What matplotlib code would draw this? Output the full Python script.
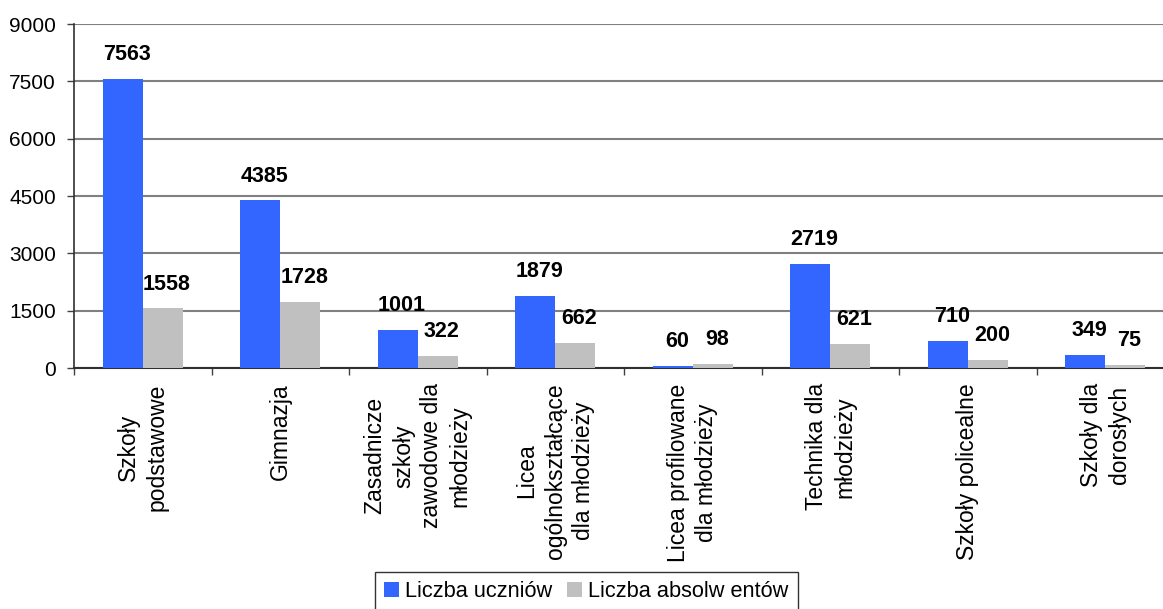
import matplotlib
matplotlib.use("Agg")
import matplotlib.pyplot as plt
import numpy as np
from matplotlib.patches import Patch

categories = ["Szkoły\npodstawowe", "Gimnazja", "Zasadnicze\nszkoły\nzawodowe dla\nmłodzieży",
              "Licea\nogólnokształcące\ndla młodzieży", "Licea profilowane\ndla młodzieży",
              "Technika dla\nmłodzieży", "Szkoły policealne", "Szkoły dla\ndorosłych"]
uczniowie = [7563, 4385, 1001, 1879, 60, 2719, 710, 349]
absolwenci = [1558, 1728, 322, 662, 98, 621, 200, 75]
series_names = ["Liczba uczniów", "Liczba absolw entów"]
yticks = [0, 1500, 3000, 4500, 6000, 7500, 9000]

plt.rcParams['font.family'] = ['Liberation Sans', 'DejaVu Sans']

W, H = 1163, 609
fig = plt.figure(figsize=(W / 100, H / 100), dpi=100)
left, right, top, bottom = 74, 1174, 24, 368
ax = fig.add_axes([left / W, (H - bottom) / H, (right - left) / W, (bottom - top) / H])

blue = "#3366FF"
gray = "#C0C0C0"
x = np.arange(len(categories))
bw = 0.29
b1 = ax.bar(x - bw / 2, uczniowie, bw, color=blue, zorder=3)
b2 = ax.bar(x + bw / 2, absolwenci, bw, color=gray, zorder=3)

for bars, vals in ((b1, uczniowie), (b2, absolwenci)):
    for r, v in zip(bars, vals):
        ax.annotate(str(v), (r.get_x() + r.get_width() / 2, v), xytext=(3, 10),
                    textcoords="offset points", ha="center", va="bottom",
                    fontsize=15.5, fontweight="bold", color="black", zorder=4)

ax.set_xlim(-0.5, len(categories) - 0.5)
ax.set_ylim(0, 9000)
ax.set_yticks(yticks)
ax.set_yticklabels([str(t) for t in yticks], fontsize=15)
ax.tick_params(axis="y", length=5, width=1, pad=8, color="#404040")
ax.yaxis.grid(True, color="#808080", linewidth=1.5, zorder=0)

ax.set_xticks(x)
ax.set_xticklabels(categories, rotation=90, fontsize=16.5, linespacing=1.3,
                   multialignment="center", va="top", ha="center")
ax.tick_params(axis="x", length=0, pad=11)
ax.set_xticks(np.arange(len(categories) + 1) - 0.5, minor=True)
ax.tick_params(axis="x", which="minor", length=5, width=1, color="#404040")

for s in ("top", "right"):
    ax.spines[s].set_visible(False)
ax.spines["left"].set_color("#303030")
ax.spines["bottom"].set_color("#303030")
ax.spines["left"].set_linewidth(1.2)
ax.spines["bottom"].set_linewidth(1.5)

handles = [Patch(facecolor=blue, edgecolor="none"), Patch(facecolor=gray, edgecolor="none")]
leg = fig.legend(handles, series_names, loc="upper left",
                 bbox_to_anchor=(375 / W, (H - 572) / H), ncol=2, fontsize=15.7,
                 frameon=True, fancybox=False, edgecolor="black",
                 handlelength=0.68, handleheight=0.62, handletextpad=0.28,
                 columnspacing=0.68, borderpad=0.42, borderaxespad=0)
leg.get_frame().set_linewidth(1.0)

fig.savefig("out.png", dpi=100)
